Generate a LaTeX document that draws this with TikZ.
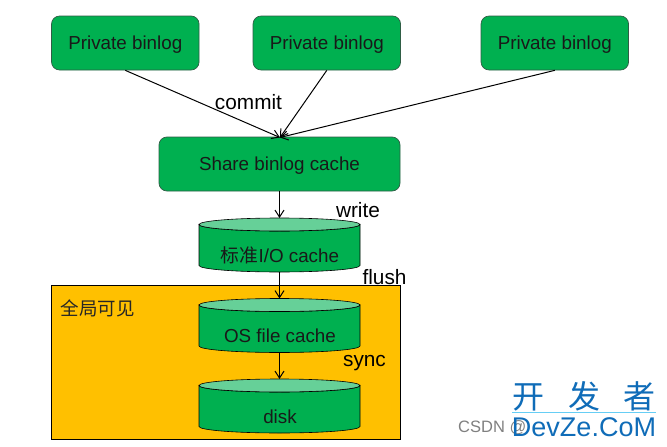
\documentclass[tikz,border=0pt]{standalone}
\usepackage{fontspec}
\setmainfont{Liberation Sans}
\newfontfamily\cjk{Noto Sans CJK SC}
\usetikzlibrary{arrows.meta}
\definecolor{boxgreen}{HTML}{00B050}
\definecolor{lidgreen}{HTML}{66D098}
\definecolor{edgegreen}{HTML}{2F5D45}
\definecolor{panel}{HTML}{FFC000}
\definecolor{wmblue}{HTML}{0F6CB8}
\tikzset{
  x=1pt,y=-1pt,
  stagebox/.style={draw=edgegreen,line width=0.7pt,fill=boxgreen,rounded corners=8pt,inner sep=0pt,font=\fontsize{18.8}{22}\selectfont,text=black!90},
  drum/.style={minimum width=161pt,minimum height=54pt,inner sep=0pt,outer sep=0pt},
  drumline/.style={draw=black,line width=0.6pt},
  drumtext/.style={font=\fontsize{18.8}{22}\selectfont,text=black!90,inner sep=0pt},
  tag/.style={font=\fontsize{20.8}{24}\selectfont,inner sep=0pt,text=black},
  flow/.style={draw=black,line width=1pt,-{Straight Barb[length=7pt,width=9pt]}},
}
% #1 node name, #2 centre y
\newcommand{\drumat}[2]{%
  \node[drum] (#1) at (279.5,#2) {};
  \path[drumline,fill=boxgreen] (#1.north west) ++(0,6.5) -- ([yshift=6.5pt]#1.south west)
    arc[start angle=180,end angle=360,x radius=80.5pt,y radius=6.5pt]
    -- ([yshift=-6.5pt]#1.north east)
    arc[start angle=0,end angle=-180,x radius=80.5pt,y radius=6.5pt] -- cycle;
  \path[drumline,fill=lidgreen] ([yshift=-6.5pt]#1.north) ellipse[x radius=80.5pt,y radius=6.5pt];
}
\newcommand{\lowered}[1]{\rule{0pt}{17.5pt}#1}
\begin{document}
\begin{tikzpicture}
\useasboundingbox (0,0) rectangle (667,447);
\fill[white] (0,0) rectangle (667,447);
\node[draw=black,line width=0.9pt,fill=panel,minimum width=349.5pt,minimum height=153.5pt,inner sep=0pt] (panel) at (226,362.5) {};
\node[stagebox,minimum width=147.5pt,minimum height=54pt] (p1) at (125.3,43) {\lowered{Private binlog}};
\node[stagebox,minimum width=147.5pt,minimum height=54pt] (p2) at (326.8,43) {\lowered{Private binlog}};
\node[stagebox,minimum width=147.5pt,minimum height=54pt] (p3) at (554.8,43) {\lowered{Private binlog}};
\node[stagebox,minimum width=241pt,minimum height=54pt] (share) at (279.5,164) {\lowered{Share binlog cache}};
\drumat{io}{245}
\drumat{os}{325.5}
\drumat{disk}{406}
\node[drumtext] (iot) at (280,255.5) {{\cjk 标准}I/O cache};
\node[drumtext] (ost) at (280,335.5) {OS file cache};
\node[drumtext] (diskt) at (280,416.5) {disk};
\node[tag] (commit) at (248.5,102) {commit};
\node[tag] (write) at (358,210) {write};
\node[tag] (flush) at (384.5,277) {flush};
\node[tag] (sync) at (364.5,363.5) {sync};
\node[font=\cjk\fontsize{18.5}{22}\selectfont,inner sep=0pt,text=black!85] (vis) at (97.5,308) {全局可见};
\coordinate (hit) at (280,137.5);
\draw[flow] (p1.south) -- (hit);
\draw[flow] (p2.south) -- (hit);
\draw[flow] (p3.south) -- (hit);
\draw[flow] (share.south) -- (io.north);
\draw[flow] (io.south) -- (os.north);
\draw[flow] (os.south) -- (disk.north);
\node[font=\fontsize{16.5}{18}\selectfont,text=black!50,inner sep=0pt,anchor=west] (csdn) at (458,428) {CSDN @};
\node[font=\cjk\fontsize{32}{36}\selectfont,text=wmblue,inner sep=0pt] (kai) at (584,396) {开\hspace{0.72em}发\hspace{0.72em}者};
\draw[cyan!60,line width=0.6pt] (512,412.5) -- (656,412.5);
\node[font=\fontsize{27}{32}\selectfont,text=wmblue,inner sep=0pt] (dz) at (584,427) {DevZe.CoM};
\end{tikzpicture}
\end{document}
